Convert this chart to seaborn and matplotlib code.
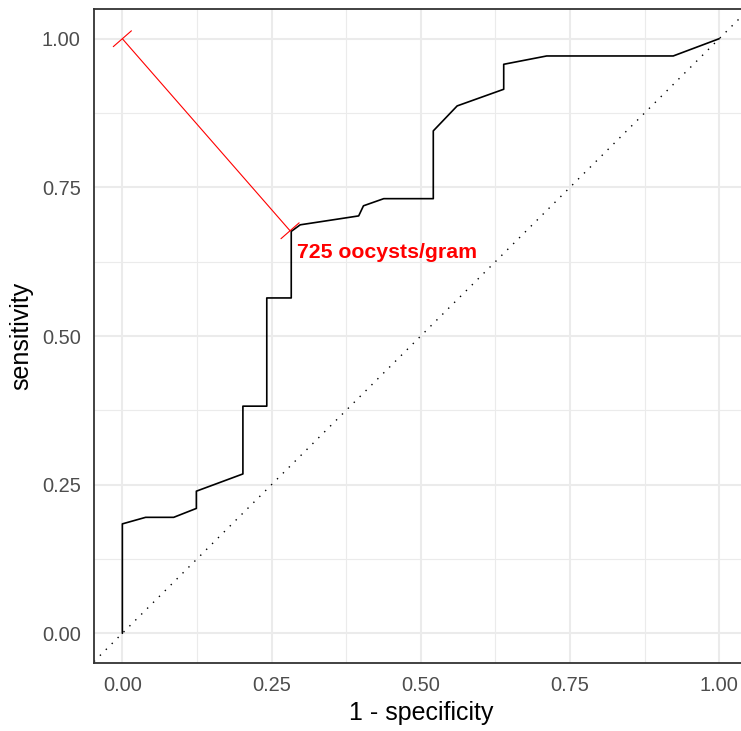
import numpy as np
import pandas as pd
import matplotlib
matplotlib.use("Agg")
import matplotlib.pyplot as plt
from matplotlib.ticker import MultipleLocator
import seaborn as sns

# ROC curve vertices
fpr = [0, 0, 0.039, 0.086, 0.124, 0.124, 0.202, 0.202, 0.242, 0.242, 0.283, 0.283,
       0.298, 0.396, 0.404, 0.438, 0.521, 0.521, 0.561, 0.639, 0.639, 0.711, 0.923, 1.0]
tpr = [0, 0.184, 0.195, 0.195, 0.21, 0.239, 0.268, 0.382, 0.382, 0.564, 0.564, 0.676,
       0.687, 0.702, 0.719, 0.731, 0.731, 0.845, 0.887, 0.915, 0.957, 0.971, 0.971, 1.0]

# optimal cut-off and its label
best_point = (0.281, 0.677)
best_label = "725 oocysts/gram"
ticks = [0.0, 0.25, 0.5, 0.75, 1.0]
tick_labels = ["0.00", "0.25", "0.50", "0.75", "1.00"]

sns.set_style("white")
plt.rcParams['font.family'] = ['Liberation Sans', 'DejaVu Sans']

df_roc = pd.DataFrame({'fpr': fpr, 'tpr': tpr})

fig = plt.figure(figsize=(7.41, 7.31), dpi=100)
ax = fig.add_axes([94 / 741, (731 - 663) / 731, (749 - 94) / 741, (663 - 9) / 731])

ax.set_xlim(-0.0475, 1.05)
ax.set_ylim(-0.05, 1.05)

# grid like theme_bw
ax.xaxis.set_minor_locator(MultipleLocator(0.125))
ax.yaxis.set_minor_locator(MultipleLocator(0.125))
ax.grid(which='major', color='#EBEBEB', linewidth=1.5)
ax.grid(which='minor', color='#EBEBEB', linewidth=0.8)
ax.set_axisbelow(True)

# chance diagonal
ax.axline((0, 0), (1, 1), color='black', linestyle=(0, (1, 5)), linewidth=1.0)

sns.lineplot(data=df_roc, x='fpr', y='tpr', sort=False, estimator=None,
             color='black', linewidth=1.2, ax=ax)

# segment from perfect classifier to the best threshold, bar ends
ax.annotate("", xy=best_point, xytext=(0, 1),
            arrowprops=dict(arrowstyle='|-|,widthA=0.62,widthB=0.62', color='red',
                            lw=0.8, shrinkA=0, shrinkB=0, mutation_scale=14))
ax.text(best_point[0] + 0.012, best_point[1] - 0.02, best_label, color='red',
        fontsize=15.3, fontweight='bold', ha='left', va='top')

ax.set_xticks(ticks)
ax.set_xticklabels(tick_labels)
ax.set_yticks(ticks)
ax.set_yticklabels(tick_labels)
ax.tick_params(which='major', length=5.5, width=1.0, color='#333333',
               labelsize=14.4, labelcolor='#4D4D4D', pad=4)
ax.tick_params(which='minor', length=0)

ax.set_xlabel("1 - specificity", fontsize=18, color='black', labelpad=4)
ax.set_ylabel("sensitivity", fontsize=18, color='black', labelpad=6)

for side in ['left', 'bottom', 'top', 'right']:
    ax.spines[side].set_visible(True)
    ax.spines[side].set_color('#333333')
    ax.spines[side].set_linewidth(1.3)

fig.savefig("out.png", dpi=100)
